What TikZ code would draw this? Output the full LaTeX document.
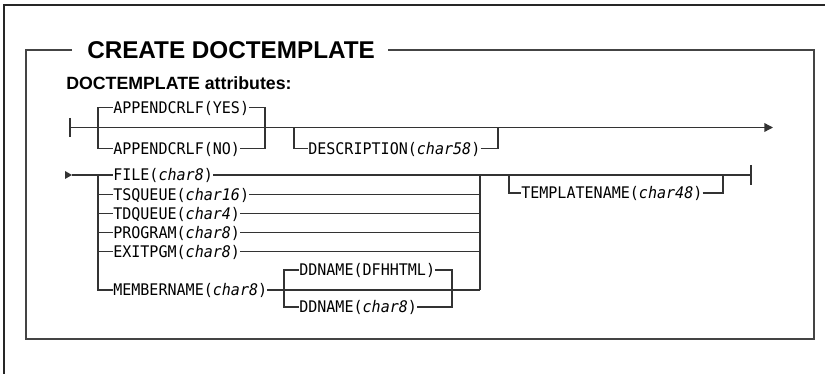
\documentclass[tikz,border=0pt]{standalone}
\usepackage{fontspec}
\setmainfont{Liberation Sans}
\setmonofont{DejaVu Sans Mono}[FakeStretch=0.94, ItalicFont={DejaVu Sans Mono Oblique}]
\usetikzlibrary{arrows.meta}
\definecolor{railc}{HTML}{333333}
\definecolor{boxc}{HTML}{444444}
\begin{document}
\begin{tikzpicture}[x=0.75pt,y=-0.75pt,
  rail/.style={line width=1pt, draw=railc},
  boxline/.style={line width=1.5pt, draw=boxc},
  frameline/.style={line width=1.1pt, draw=black!85},
  opt/.style={anchor=west, inner sep=0pt, text=black,
    font=\ttfamily\fontsize{12pt}{14pt}\selectfont,
    text height=8.75pt, text depth=0pt},
  titlefont/.style={anchor=west, inner sep=0pt,
    font=\bfseries\fontsize{18.2pt}{21pt}\selectfont,
    text height=13pt, text depth=0pt},
  subfont/.style={anchor=west, inner sep=0pt,
    font=\bfseries\fontsize{13.3pt}{16pt}\selectfont,
    text height=9.5pt, text depth=0pt}]
\useasboundingbox (0,0) rectangle (825,374);

% outer frame
\draw[frameline] (4,374) -- (4,5) -- (825,5);

% titled box
\node[titlefont] (ttl) at (87,50) {CREATE DOCTEMPLATE};
\draw[boxline] (ttl.west) ++(-15,0) -- (26,50) -- (26,339) -- (814,339) -- (814,50) -- (388,50);
\node[subfont] (attr) at (66,83) {DOCTEMPLATE attributes:};

% ---- row 1 ----
\coordinate (s1) at (70,127.5);
\coordinate (a1L) at (98,127.5);
\coordinate (a1R) at (265,127.5);
\coordinate (d1L) at (294,127.5);
\coordinate (d1R) at (498,127.5);
\coordinate (e1) at (773,127.5);
\node[opt] (yes) at (113,107.5) {APPENDCRLF(YES)};
\node[opt] (no) at (113,148.5) {APPENDCRLF(NO)};
\node[opt] (desc) at (308,148.5) {DESCRIPTION(\textit{char58})};

\draw[rail] (s1) ++(0,-9.5) -- ++(0,19);
\draw[rail,-{Triangle[length=6.5pt,width=6.5pt]}] (s1) -- (e1);
\draw[rail] (yes.west) -| (a1L) |- (no.west);
\draw[rail] (yes.east) -| (a1R |- no.east) -- (no.east);
\draw[rail] (d1L) |- (desc.west);
\draw[rail] (desc.east) -| (d1R);

% ---- row 2 ----
\coordinate (s2) at (72,175);
\coordinate (b2L) at (98,175);
\coordinate (b2R) at (480,175);
\coordinate (t2L) at (509,175);
\coordinate (t2R) at (723,175);
\coordinate (e2) at (751,175);
\coordinate (c2L) at (284,290);
\coordinate (c2R) at (452,290);

\node[opt] (file) at (113,175) {FILE(\textit{char8})};
\node[opt] (tsq) at (113,194.2) {TSQUEUE(\textit{char16})};
\node[opt] (tdq) at (113,213.4) {TDQUEUE(\textit{char4})};
\node[opt] (prog) at (113,232.6) {PROGRAM(\textit{char8})};
\node[opt] (exitp) at (113,251.8) {EXITPGM(\textit{char8})};
\node[opt] (mem) at (113,290) {MEMBERNAME(\textit{char8})};
\node[opt] (dfh) at (299,270) {DDNAME(DFHHTML)};
\node[opt] (ddc) at (299,307) {DDNAME(\textit{char8})};
\node[opt] (tmpl) at (521,193) {TEMPLATENAME(\textit{char48})};

\fill[railc] (s2) -- ++(-7,-4) -- ++(0,8) -- cycle;
\draw[rail] (s2) -- (file.west);
\draw[rail] (file.east) -- (e2);
\draw[rail] (e2) ++(0,-10) -- ++(0,20);
\draw[rail] (b2L) |- (mem.west);
\foreach \n in {tsq,tdq,prog,exitp}{
  \draw[rail] (b2L |- \n.west) -- (\n.west);
  \draw[rail] (\n.east) -- (b2R |- \n.east);
}
\draw[rail] (b2R) -- (b2R |- mem.east);
\draw[rail] (mem.east) -- (b2R |- mem.east);
\draw[rail] (dfh.west) -| (c2L) |- (ddc.west);
\draw[rail] (dfh.east) -| (c2R |- ddc.east) -- (ddc.east);
\draw[rail] (t2L) |- (tmpl.west);
\draw[rail] (tmpl.east) -| (t2R);
\end{tikzpicture}
\end{document}
